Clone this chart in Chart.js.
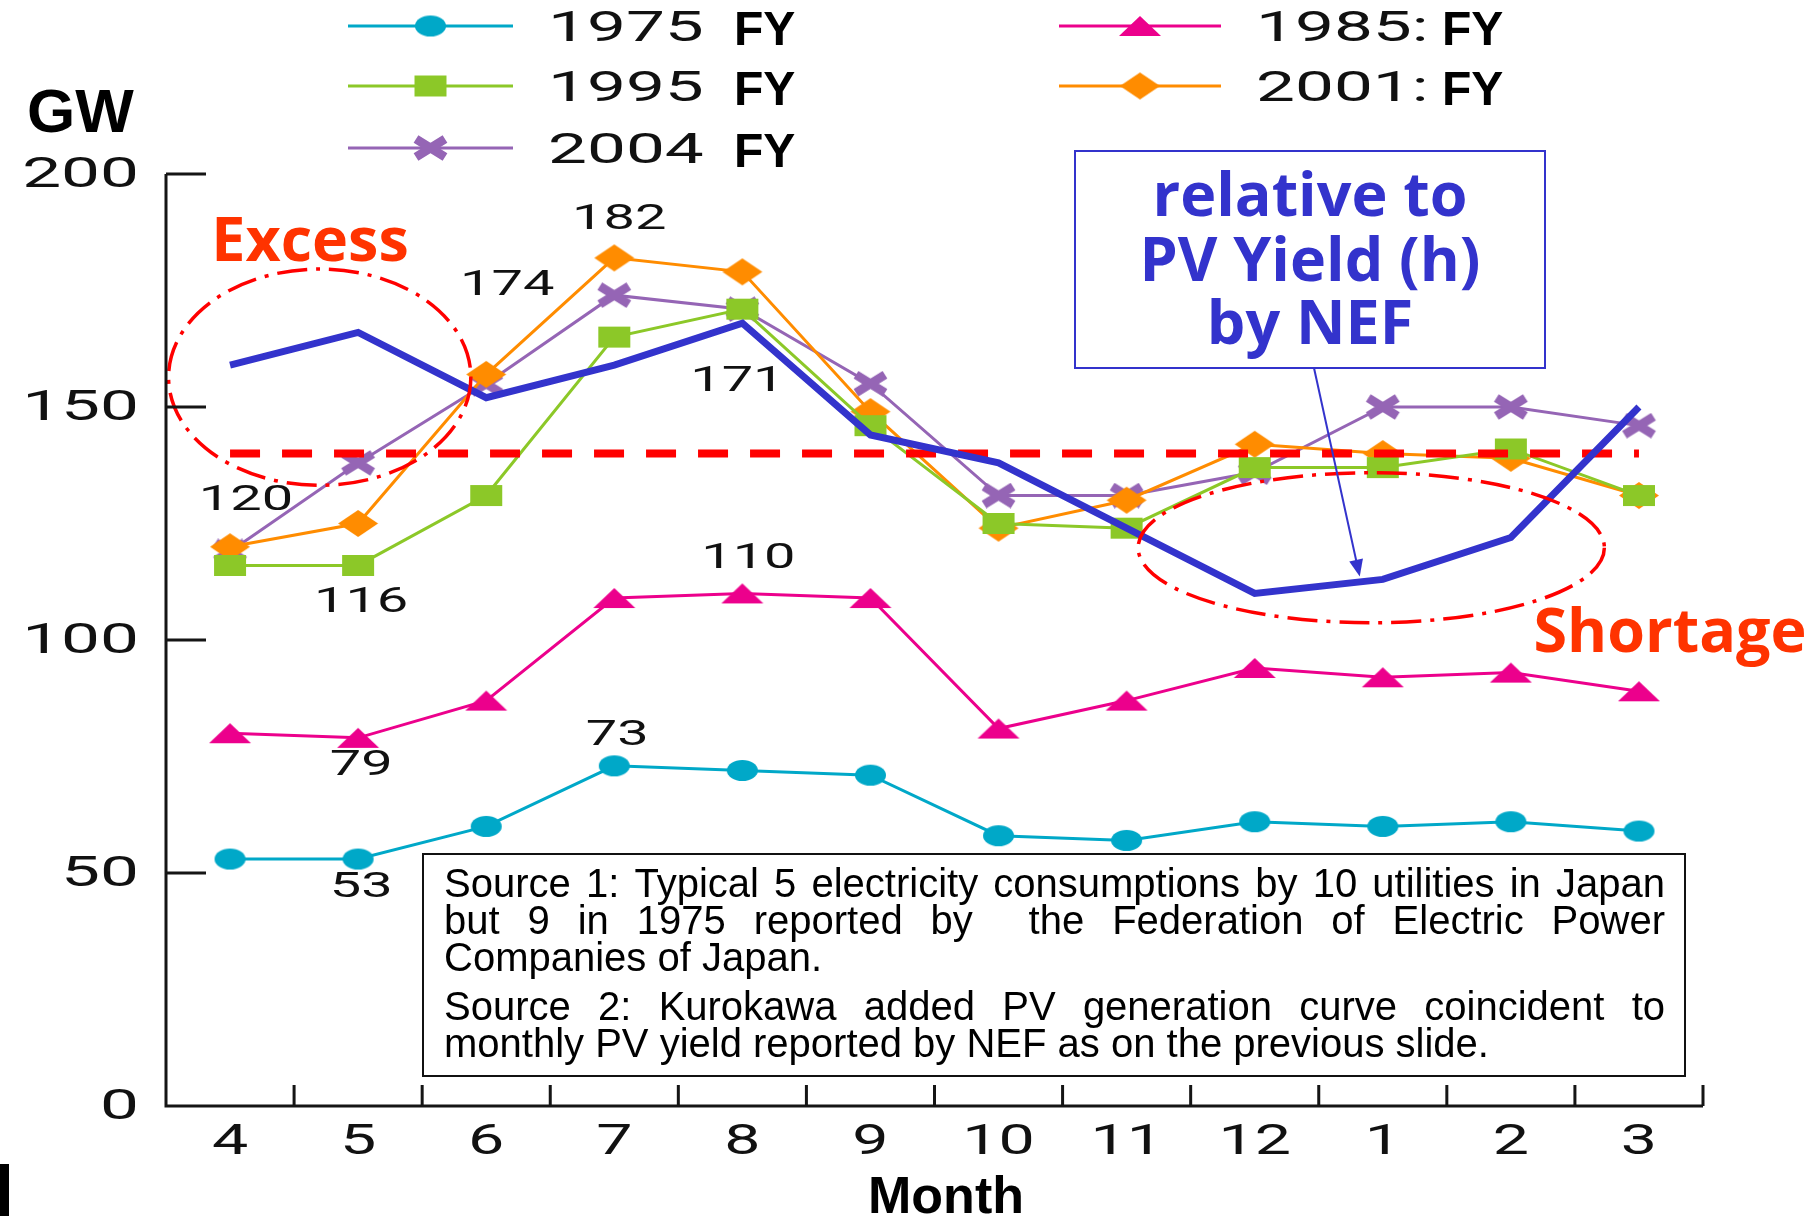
<!DOCTYPE html>
<html>
<head>
<meta charset="utf-8">
<title>Monthly peak demand and PV generation</title>
<script src="https://cdn.jsdelivr.net/npm/chart.js@4.4.1/dist/chart.umd.min.js"></script>
<style>
  html, body { margin: 0; padding: 0; background: #ffffff; }
  #wrap { width: 1820px; height: 1216px; position: relative; overflow: hidden; }
  canvas { display: block; }
</style>
</head>
<body>
<div id="wrap"><canvas id="chart" width="1820" height="1216"></canvas></div>
<script>
// ---- data -------------------------------------------------------------
const months = ['4', '5', '6', '7', '8', '9', '10', '11', '12', '1', '2', '3'];
const yTicks = [0, 50, 100, 150, 200];

// monthly peak demand, GW
const fy1975 = [53, 53, 60, 73, 72, 71, 58, 57, 61, 60, 61, 59];
const fy1985 = [80, 79, 87, 109, 110, 109, 81, 87, 94, 92, 93, 89];
const fy1995 = [116, 116, 131, 165, 171, 146, 125, 124, 137, 137, 141, 131];
const fy2001 = [120, 125, 157, 182, 179, 149, 124, 130, 142, 140, 139, 131];
const fy2004 = [119, 138, 155, 174, 171, 155, 131, 131, 136, 150, 150, 146];

// PV generation curve scaled to monthly PV yield
const pvCurve = [159, 166, 152, 159, 168, 144, 138, 124, 110, 113, 122, 150];
// reference supply level
const supplyLevel = [140, 140, 140, 140, 140, 140, 140, 140, 140, 140, 140, 140];

const seriesNames = ['1975 FY', '1985: FY', '1995 FY', '2001: FY', '2004 FY'];

// values written beside points: [series, month]
const valueNotes = [
  ['2001: FY', '7'], ['2004 FY', '7'], ['1995 FY', '8'], ['2001: FY', '4'],
  ['1995 FY', '5'], ['1985: FY', '8'], ['1975 FY', '7'], ['1985: FY', '5'], ['1975 FY', '5']
];

const calloutLines = ['relative to', 'PV Yield (h)', 'by NEF'];
const sourceLines = [
  'Source 1: Typical 5 electricity consumptions by 10 utilities in Japan',
  'but 9 in 1975 reported by  the Federation of Electric Power',
  'Companies of Japan.',
  'Source 2: Kurokawa added PV generation curve coincident to',
  'monthly PV yield reported by NEF as on the previous slide.'
];

// ---- drawing helpers --------------------------------------------------
const DIGIT_FONT = 'Roboto';

function wideText(ctx, text, x, y, size, sx, align) {
  ctx.save();
  ctx.font = '400 ' + size + 'px ' + DIGIT_FONT;
  ctx.textBaseline = 'middle';
  ctx.textAlign = 'left';
  const w = ctx.measureText(text).width * sx;
  const x0 = align === 'right' ? x - w : (align === 'center' ? x - w / 2 : x);
  ctx.translate(x0, y);
  ctx.scale(sx, 1);
  ctx.fillStyle = '#111111';
  ctx.fillText(text, 0, 0);
  ctx.restore();
}

function justifiedLine(ctx, text, left, right, baseline, justify) {
  if (!justify) { ctx.fillText(text, left, baseline); return; }
  const words = text.split(' ');
  const widths = words.map(w => ctx.measureText(w).width);
  const total = widths.reduce((a, b) => a + b, 0);
  const gap = (right - left - total) / (words.length - 1);
  let x = left;
  words.forEach((w, i) => { ctx.fillText(w, x, baseline); x += widths[i] + gap; });
}

function dashEllipse(ctx, xs, ys, e) {
  const cx = xs.getPixelForValue(e.cx), cy = ys.getPixelForValue(e.cy);
  const step = xs.getPixelForValue(1) - xs.getPixelForValue(0);
  const rx = e.rx * step;
  const ry = Math.abs(ys.getPixelForValue(e.cy + e.ry) - cy);
  ctx.save();
  ctx.strokeStyle = '#ff0000';
  ctx.lineWidth = 3.5;
  ctx.setLineDash([30, 9, 4, 9]);
  ctx.beginPath();
  ctx.ellipse(cx, cy, rx, ry, 0, 0, Math.PI * 2);
  ctx.stroke();
  ctx.restore();
}

// wide point markers, as used on the plotted series
function markerImage(shape, w, h, color) {
  const c = document.createElement('canvas');
  c.width = w + 2; c.height = h + 2;
  const g = c.getContext('2d');
  const cx = c.width / 2, cy = c.height / 2;
  g.fillStyle = color; g.strokeStyle = color;
  g.beginPath();
  if (shape === 'ellipse') {
    g.ellipse(cx, cy, w / 2, h / 2, 0, 0, Math.PI * 2); g.fill();
  } else if (shape === 'triangle') {
    g.moveTo(cx, 1); g.lineTo(w + 1, h + 1); g.lineTo(1, h + 1); g.closePath(); g.fill();
  } else if (shape === 'rect') {
    g.fillRect(1, 1, w, h);
  } else if (shape === 'diamond') {
    g.moveTo(cx, 1); g.lineTo(w + 1, cy); g.lineTo(cx, h + 1); g.lineTo(1, cy); g.closePath(); g.fill();
  } else if (shape === 'cross') {
    g.lineWidth = 9; g.lineCap = 'butt';
    g.moveTo(5, 4); g.lineTo(w - 3, h - 2);
    g.moveTo(w - 3, 4); g.lineTo(5, h - 2);
    g.stroke();
  }
  return c;
}

// ---- annotations, axes and legend --------------------------------------
const decorations = {
  id: 'decorations',
  afterDatasetsDraw(chart) {
    const { ctx, scales: { x: xs, y: ys } } = chart;
    // "Excess" and "Shortage" regions
    dashEllipse(ctx, xs, ys, { cx: 0.7, cy: 156.4, rx: 1.18, ry: 23.2 });
    dashEllipse(ctx, xs, ys, { cx: 8.91, cy: 119.8, rx: 1.82, ry: 16.1 });
  },
  afterDraw(chart) {
    const { ctx, chartArea: ca, scales: { x: xs, y: ys } } = chart;
    const byName = n => chart.data.datasets.find(d => d.label === n);
    const y0 = ys.getPixelForValue(0);
    const step = xs.getPixelForValue(1) - xs.getPixelForValue(0);

    // axis lines and inward tick marks
    ctx.save();
    ctx.strokeStyle = '#151515';
    ctx.lineWidth = 3;
    ctx.lineJoin = 'miter';
    ctx.beginPath();
    ctx.moveTo(ca.left, ys.getPixelForValue(yTicks[yTicks.length - 1]));
    ctx.lineTo(ca.left, y0);
    ctx.lineTo(ca.right, y0);
    ctx.stroke();
    ctx.beginPath();
    yTicks.forEach(v => {
      if (v === 0) return;
      const py = ys.getPixelForValue(v);
      ctx.moveTo(ca.left, py); ctx.lineTo(ca.left + 40, py);
    });
    months.forEach((m, i) => {
      const px = xs.getPixelForValue(i) + step / 2;
      ctx.moveTo(px, y0); ctx.lineTo(px, y0 - 21);
    });
    ctx.stroke();
    ctx.restore();

    // tick labels
    yTicks.forEach(v => wideText(ctx, String(v), ca.left - 27, ys.getPixelForValue(v) + 2, 42, 1.65, 'right'));
    months.forEach((m, i) => wideText(ctx, m, xs.getPixelForValue(i), y0 + 37, 43, 1.5, 'center'));

    // value notes beside points
    const spots = [[5, -38], [-107, -9], [-5, 73], [16, -46], [3, 38], [6, -34], [3, -30], [3, 28], [3, 29]];
    valueNotes.forEach(([name, month], k) => {
      const ds = byName(name);
      const i = months.indexOf(month);
      const v = ds.data[i];
      wideText(ctx, String(v), xs.getPixelForValue(i) + spots[k][0], ys.getPixelForValue(v) + spots[k][1], 35, 1.6, 'center');
    });

    // axis titles
    ctx.save();
    ctx.fillStyle = '#000000';
    ctx.font = 'bold 62px "Liberation Sans"';
    ctx.textBaseline = 'alphabetic';
    ctx.textAlign = 'left';
    ctx.fillText('GW', 27, 132);
    ctx.font = 'bold 52px "Liberation Sans"';
    ctx.textAlign = 'center';
    ctx.fillText('Month', 946, 1213);
    ctx.restore();

    // legend
    const legendSlots = [
      ['1975 FY', 348, 513, 26], ['1995 FY', 348, 513, 86], ['2004 FY', 348, 513, 148],
      ['1985: FY', 1059, 1221, 26], ['2001: FY', 1059, 1221, 86]
    ];
    legendSlots.forEach(([name, x1, x2, ly]) => {
      const ds = byName(name);
      ctx.save();
      ctx.strokeStyle = ds.borderColor;
      ctx.lineWidth = 3;
      ctx.beginPath(); ctx.moveTo(x1, ly); ctx.lineTo(x2, ly); ctx.stroke();
      const img = ds.pointStyle;
      ctx.drawImage(img, (x1 + x2) / 2 - img.width / 2, ly - img.height / 2);
      ctx.restore();
      const cut = name.lastIndexOf(' ');
      wideText(ctx, name.slice(0, cut), x2 + 35, ly + 4, 42, 1.65, 'left');
      ctx.save();
      ctx.fillStyle = '#000000';
      ctx.font = 'bold 48px "Liberation Sans"';
      ctx.textBaseline = 'middle';
      ctx.fillText(name.slice(cut + 1), x2 + 221, ly + 6);
      ctx.restore();
    });

    // region captions
    ctx.save();
    ctx.fillStyle = '#ff3300';
    ctx.font = 'bold 61px "Open Sans"';
    ctx.textAlign = 'center';
    ctx.textBaseline = 'alphabetic';
    ctx.fillText('Excess', 310, 261);
    ctx.fillText('Shortage', 1670, 652);
    ctx.restore();

    // PV yield callout box with arrow to the curve
    ctx.save();
    ctx.fillStyle = '#ffffff';
    ctx.fillRect(1075, 151, 470, 217);
    ctx.strokeStyle = '#3333cc';
    ctx.lineWidth = 2;
    ctx.strokeRect(1075, 151, 470, 217);
    ctx.fillStyle = '#3333cc';
    ctx.font = 'bold 61px "Open Sans"';
    ctx.textAlign = 'center';
    ctx.textBaseline = 'alphabetic';
    [216, 281, 344].forEach((b, i) => ctx.fillText(calloutLines[i], 1310, b));
    const ax0 = 1314, ay0 = 368;
    const ax1 = xs.getPixelForValue(8.82), ay1 = ys.getPixelForValue(113.6);
    const ang = Math.atan2(ay1 - ay0, ax1 - ax0);
    ctx.lineWidth = 2;
    ctx.beginPath();
    ctx.moveTo(ax0, ay0);
    ctx.lineTo(ax1 - 14 * Math.cos(ang), ay1 - 14 * Math.sin(ang));
    ctx.stroke();
    ctx.beginPath();
    ctx.moveTo(ax1, ay1);
    ctx.lineTo(ax1 - 17 * Math.cos(ang) + 7 * Math.sin(ang), ay1 - 17 * Math.sin(ang) - 7 * Math.cos(ang));
    ctx.lineTo(ax1 - 17 * Math.cos(ang) - 7 * Math.sin(ang), ay1 - 17 * Math.sin(ang) + 7 * Math.cos(ang));
    ctx.closePath();
    ctx.fill();
    ctx.restore();

    // source note
    ctx.save();
    ctx.fillStyle = '#ffffff';
    ctx.fillRect(423, 854, 1262, 222);
    ctx.strokeStyle = '#111111';
    ctx.lineWidth = 2;
    ctx.strokeRect(423, 854, 1262, 222);
    ctx.fillStyle = '#000000';
    ctx.font = '40px "Liberation Sans"';
    ctx.textBaseline = 'alphabetic';
    ctx.textAlign = 'left';
    const baselines = [897, 934, 971, 1020, 1057];
    const justify = [true, true, false, true, false];
    sourceLines.forEach((t, i) => justifiedLine(ctx, t, 444, 1665, baselines[i], justify[i]));
    ctx.restore();

    // edge fragment at the lower left
    ctx.fillStyle = '#000000';
    ctx.fillRect(0, 1164, 9, 52);
  }
};

// ---- chart --------------------------------------------------------------
function series(label, data, color, img) {
  return {
    label, data,
    borderColor: color, backgroundColor: color,
    borderWidth: 3,
    pointStyle: img, pointRadius: 14, pointHoverRadius: 14,
    tension: 0, fill: false
  };
}

function build() {
  const datasets = [
    {
      label: 'PV curve', data: pvCurve, borderColor: '#3333cc', borderWidth: 7,
      pointRadius: 0, tension: 0, fill: false, borderJoinStyle: 'miter'
    },
    {
      label: 'Supply level', data: supplyLevel, borderColor: '#ff0000', borderWidth: 8,
      borderDash: [30, 22], borderCapStyle: 'butt', pointRadius: 0, tension: 0, fill: false
    },
    series(seriesNames[2], fy1995, '#8cc828', markerImage('rect', 32, 21, '#8cc828')),
    series(seriesNames[3], fy2001, '#ff8c00', markerImage('diamond', 40, 27, '#ff8c00')),
    series(seriesNames[4], fy2004, '#9565b5', markerImage('cross', 37, 24, '#9565b5')),
    series(seriesNames[1], fy1985, '#ec008c', markerImage('triangle', 42, 20, '#ec008c')),
    series(seriesNames[0], fy1975, '#00a8c8', markerImage('ellipse', 31, 21, '#00a8c8'))
  ];

  new Chart(document.getElementById('chart'), {
    type: 'line',
    data: { labels: months, datasets },
    options: {
      responsive: false,
      animation: false,
      devicePixelRatio: 1,
      layout: { padding: { left: 166, right: 117, top: 174, bottom: 110 } },
      scales: {
        x: { type: 'category', offset: true, display: false },
        y: { min: yTicks[0], max: yTicks[yTicks.length - 1], display: false }
      },
      plugins: { legend: { display: false }, tooltip: { enabled: false } }
    },
    plugins: [decorations]
  });
}

const fontFaces = ['400 42px Roboto', 'bold 61px "Open Sans"', 'bold 52px "Liberation Sans"', '40px "Liberation Sans"'];
Promise.all(fontFaces.map(f => document.fonts.load(f))).then(build, build);
</script>
</body>
</html>
